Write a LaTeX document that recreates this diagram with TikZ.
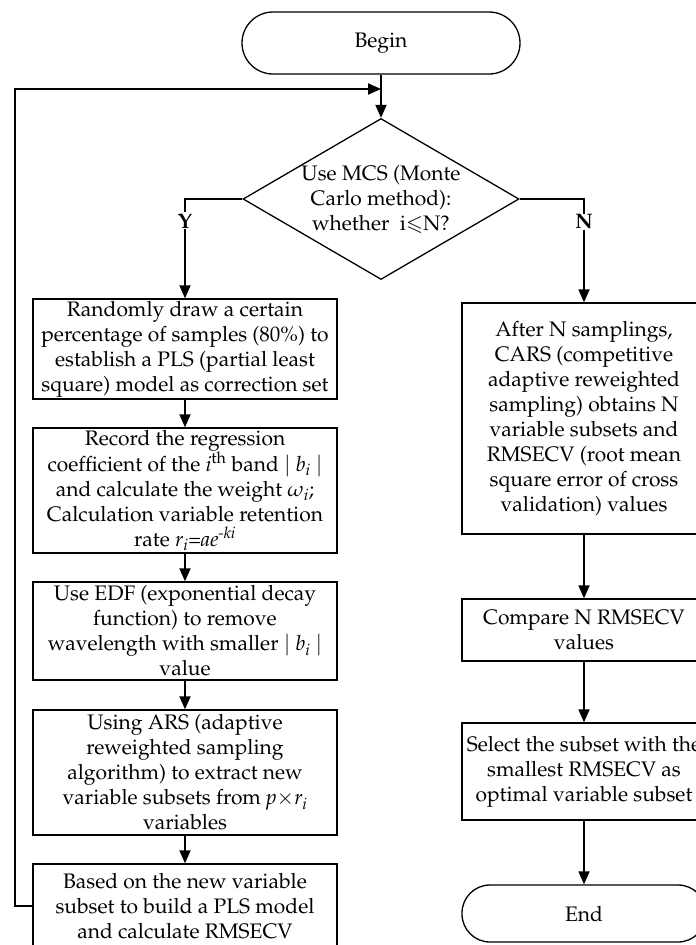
\documentclass[tikz,border=0pt]{standalone}
\usepackage[T1]{fontenc}
\usepackage{amsmath,amssymb}
\usepackage{mathpazo}
\usetikzlibrary{arrows.meta,shapes.geometric}

\begin{document}
\begin{tikzpicture}[x=1pt, y=-1pt,
	every node/.style={font=\fontsize{21}{25}\selectfont, align=center},
	>={Triangle[length=13pt,width=11pt]},
	proc/.style={draw, line width=1.3pt, inner sep=2pt},
	term/.style={draw, line width=1.3pt},
	decide/.style={draw, diamond, line width=1.3pt, aspect=1.71, inner sep=-5pt, minimum width=276pt, minimum height=161pt},
	flow/.style={->, line width=1.8pt},
	yn/.style={fill=white, inner sep=1pt, font=\fontsize{21}{25}\selectfont\bfseries}]
	\useasboundingbox (0,0) rectangle (696,945);
	\clip (0,0) rectangle (696,945);
	% start and test
	\node[term, rounded corners=31pt, minimum width=278pt, minimum height=62pt] (begin) at (381,43) {Begin};
	\node[decide] (mcs) at (381,199) {Use MCS (Monte\\Carlo method):\\whether\ \ i$\leqslant$N?};
	% left column (Y)
	\node[proc, minimum width=304pt, minimum height=98pt] (sample) at (185,349) {Randomly draw a certain\\percentage of samples (80\%) to\\establish a PLS (partial least\\square) model as correction set};
	\node[proc, minimum width=304pt, minimum height=125pt] (record) at (185,490.5) {Record the regression\\coefficient of the \textit{i}\textsuperscript{th} band $\vert$ \textit{b}\textsubscript{\textit{i}} $\vert$\\and calculate the weight $\omega$\textsubscript{\textit{i}};\\Calculation variable retention\\rate \textit{r}\textsubscript{\textit{i}}=\textit{ae}\textsuperscript{\textit{-ki}}};
	\node[proc, minimum width=304pt, minimum height=98pt] (edf) at (185,631) {Use EDF (exponential decay\\function) to remove\\wavelength with smaller $\vert$ \textit{b}\textsubscript{\textit{i}} $\vert$\\value};
	\node[proc, minimum width=304pt, minimum height=125pt] (ars) at (185,772.5) {Using ARS (adaptive\\reweighted sampling\\algorithm) to extract new\\variable subsets from \textit{p}$\times$\textit{r}\textsubscript{\textit{i}}\\variables};
	\node[proc, minimum width=304pt, minimum height=84pt] (rebuild) at (185,906) {Based on the new variable\\subset to build a PLS model\\and calculate RMSECV};
	% right column (N)
	\node[proc, minimum width=244pt, minimum height=231pt] (cars) at (584,418.5) {After N samplings,\\CARS (competitive\\adaptive reweighted\\sampling) obtains N\\variable subsets and\\RMSECV (root mean\\square error of cross\\validation) values};
	\node[proc, minimum width=244pt, minimum height=62pt] (compare) at (584,630) {Compare N RMSECV\\values};
	\node[proc, minimum width=244pt, minimum height=97pt] (select) at (584,771.5) {Select the subset with the\\smallest RMSECV as\\optimal variable subset};
	\node[term, rounded corners=28pt, minimum width=244pt, minimum height=57pt] (end) at (584,913.5) {End};
	% connectors
	\draw[flow] (begin) -- (mcs);
	\draw[flow] (mcs.west) -| node[yn, pos=0.61] {Y} (sample.north);
	\draw[flow] (mcs.east) -| node[yn, pos=0.61] {N} (cars.north);
	\draw[flow] (sample) -- (record);
	\draw[flow] (record) -- (edf);
	\draw[flow] (edf) -- (ars);
	\draw[flow] (ars) -- (rebuild);
	\draw[flow] (cars) -- (compare);
	\draw[flow] (compare) -- (select);
	\draw[flow] (select) -- (end);
	% loop back
	\coordinate (corner) at (15,89);
	\coordinate (join) at (381,89);
	\draw[flow] (rebuild.west) -| (corner) -- (join);
\end{tikzpicture}
\end{document}
